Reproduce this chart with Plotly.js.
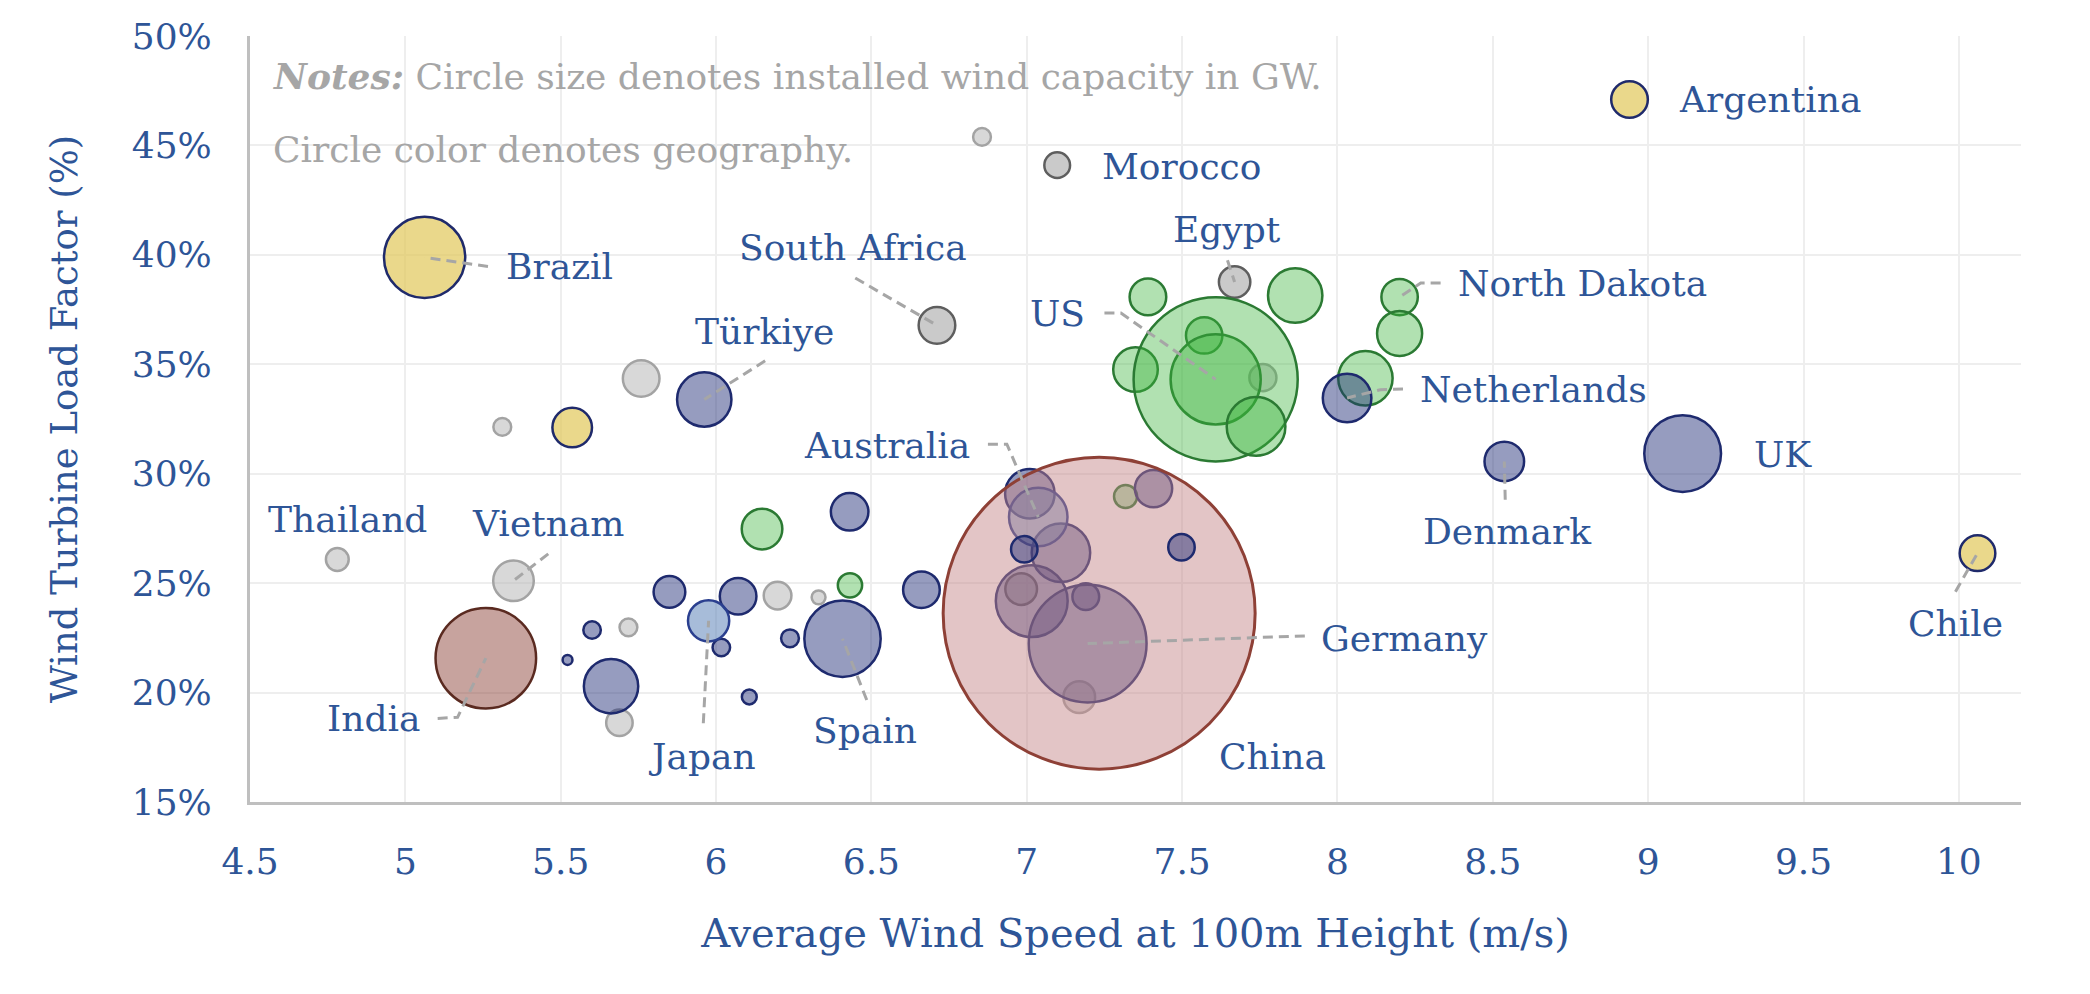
<!DOCTYPE html>
<html>
<head>
<meta charset="utf-8">
<script src="https://cdn.plot.ly/plotly-3.0.1.min.js"></script>
<style>
  html, body { margin: 0; padding: 0; background: #ffffff; }
  #chart { width: 2090px; height: 994px; }
</style>
</head>
<body>
<div id="chart"></div>
<script>
// ---------------- DATA (listed in drawing order) ----------------
const country = [
  'Thailand', 'Vietnam', '', '', '', '', '', '', '', '', '',
  'Morocco', 'South Africa', 'Egypt', '',
  '', '', 'North Dakota', '', '', '', '', '', '', '', '', 'US', '',
  'Brazil', 'Argentina', 'Chile', '',
  'Türkiye', '', '', '', '', '', '', '', '', 'Spain', '', '', 'Netherlands', 'Denmark', 'UK',
  '', '', '', '', '', 'Germany',
  'Japan', 'Australia',
  'India',
  'China',
  '', ''
];
const windSpeed = [
  4.781, 5.348, 5.312, 5.759, 6.856, 5.718, 5.689, 6.198, 6.330, 7.169, 7.760,
  7.098, 6.711, 7.669, 6.982,
  7.390, 7.864, 8.200, 8.200, 8.090, 7.350, 7.571, 7.608, 6.148, 6.431, 7.318, 7.608, 7.738,
  5.062, 8.940, 10.060, 5.537,
  5.962, 5.662, 5.601, 5.522, 5.850, 6.071, 6.017, 6.238, 6.107, 6.407, 6.430, 6.661, 8.031, 8.537, 9.111,
  7.010, 7.110, 7.408, 7.016, 7.190, 7.196,
  5.976, 7.037,
  5.259,
  7.233,
  6.992, 7.498
];
const loadFactor = [
  26.08, 25.11, 32.14, 34.35, 45.39, 22.98, 18.62, 24.43, 24.35, 19.79, 34.39,
  44.10, 36.78, 38.76, 24.73,
  38.08, 38.14, 38.07, 36.41, 34.36, 34.76, 36.32, 34.31, 27.47, 24.90, 28.96, 34.31, 32.16,
  39.88, 47.10, 26.37, 32.11,
  33.39, 20.29, 22.86, 21.49, 24.60, 24.40, 22.06, 22.48, 19.80, 22.46, 28.26, 24.70, 33.46, 30.56, 30.92,
  29.09, 26.39, 29.32, 24.18, 24.38, 22.24,
  23.28, 28.02,
  21.57,
  23.63,
  26.55, 26.64
];
const capacityGW = [
  2.35, 7.47, 1.44, 6.08, 1.44, 1.44, 3.17, 3.48, 0.87, 4.55, 3.31,
  3.0, 6.08, 4.47, 4.55,
  6.08, 13.4, 6.0, 9.2, 13.4, 9.0, 6.0, 36.8, 7.47, 2.67, 2.41, 122, 15.6,
  29.9, 6.08, 5.76, 7.1,
  13.4, 13.4, 1.39, 0.44, 4.55, 6.08, 1.39, 1.44, 1.0, 26.4, 6.4, 6.08, 10.7, 7.1, 26.7,
  11.1, 15.5, 6.3, 23.4, 3.24, 62.9,
  7.7, 15.5,
  45.8,
  441,
  3.17, 3.17
];
const region = [
  'Other', 'Other', 'Other', 'Other', 'Other', 'Other', 'Other', 'Other', 'Other', 'Other', 'Other',
  'Africa', 'Africa', 'Africa', 'Africa',
  'NorthAmerica', 'NorthAmerica', 'NorthAmerica', 'NorthAmerica', 'NorthAmerica', 'NorthAmerica',
  'NorthAmerica', 'NorthAmerica', 'NorthAmerica', 'NorthAmerica', 'NorthAmerica', 'NorthAmerica', 'NorthAmerica',
  'LatinAmerica', 'LatinAmerica', 'LatinAmerica', 'LatinAmerica',
  'Europe', 'Europe', 'Europe', 'Europe', 'Europe', 'Europe', 'Europe', 'Europe', 'Europe', 'Europe',
  'Europe', 'Europe', 'Europe', 'Europe', 'Europe',
  'Europe', 'Europe', 'Europe', 'Europe', 'Europe', 'Europe',
  'AsiaPacific', 'AsiaPacific',
  'India',
  'China',
  'Europe', 'Europe'
];

const xTickValues = [4.5, 5, 5.5, 6, 6.5, 7, 7.5, 8, 8.5, 9, 9.5, 10];
const xTickLabels = ['4.5', '5', '5.5', '6', '6.5', '7', '7.5', '8', '8.5', '9', '9.5', '10'];
const yTickValues = [15, 20, 25, 30, 35, 40, 45, 50];
const yTickLabels = ['15%', '20%', '25%', '30%', '35%', '40%', '45%', '50%'];

// ---------------- STYLES ----------------
const TEXT_BLUE = '#2E5597';
const FONT = 'DejaVu Serif, Georgia, serif';
const regionStyle = {
  Other:        { fill: 'rgba(178,178,178,0.5)', line: '#A3A3A3' },
  Africa:       { fill: 'rgba(150,150,150,0.5)', line: '#5E5E5E' },
  NorthAmerica: { fill: 'rgba(60,180,60,0.4)',   line: '#2B7A33' },
  LatinAmerica: { fill: 'rgba(225,200,90,0.7)',  line: '#1F2A6B' },
  Europe:       { fill: 'rgba(31,45,120,0.47)',  line: '#1E2A6E' },
  AsiaPacific:  { fill: 'rgba(79,121,179,0.5)',  line: '#2A3F8F' },
  India:        { fill: 'rgba(130,50,40,0.45)',  line: '#5A2A20' },
  China:        { fill: 'rgba(197,134,136,0.48)',line: '#8E4036' }
};
const MAX_BUBBLE_PX = 312;

const bubbles = {
  type: 'scatter',
  mode: 'markers',
  x: windSpeed,
  y: loadFactor,
  text: country,
  hoverinfo: 'text+x+y',
  marker: {
    size: capacityGW,
    sizemode: 'area',
    sizeref: 2 * Math.max(...capacityGW) / (MAX_BUBBLE_PX * MAX_BUBBLE_PX),
    opacity: 1,
    color: region.map(r => regionStyle[r].fill),
    line: {
      color: region.map(r => regionStyle[r].line),
      width: region.map(r => r === 'China' ? 3 : 2.5)
    }
  },
  cliponaxis: false,
  showlegend: false
};

// ---------------- LABELS & LEADER LINES ----------------
const labelLayout = [
  { name: 'Argentina',   x: 9.092, y: 47.10, anchor: 'left' },
  { name: 'Morocco',     x: 7.235, y: 44.03, anchor: 'left' },
  { name: 'Brazil',      x: 5.318, y: 39.46, anchor: 'left',   leader: [[5.266, 39.47]] },
  { name: 'South Africa',x: 6.442, y: 40.33, anchor: 'center', leader: [[6.448, 38.94]] },
  { name: 'Türkiye',     x: 6.156, y: 36.50, anchor: 'center', leader: [[6.158, 35.16]] },
  { name: 'Egypt',       x: 7.644, y: 41.15, anchor: 'center', leader: [[7.646, 39.75]] },
  { name: 'US',          x: 7.193, y: 37.34, anchor: 'right',  leader: [[7.250, 37.34], [7.303, 37.34]] },
  { name: 'North Dakota',x: 8.381, y: 38.71, anchor: 'left',   leader: [[8.332, 38.71], [8.268, 38.71]] },
  { name: 'Netherlands', x: 8.260, y: 33.87, anchor: 'left',   leader: [[8.211, 33.87], [8.138, 33.84]] },
  { name: 'UK',          x: 9.333, y: 30.86, anchor: 'left' },
  { name: 'Denmark',     x: 8.546, y: 27.36, anchor: 'center', leader: [[8.540, 28.81]] },
  { name: 'Chile',       x: 9.988, y: 23.17, anchor: 'center', leader: [[9.989, 24.61]] },
  { name: 'Germany',     x: 7.940, y: 22.48, anchor: 'left',   leader: [[7.895, 22.59]] },
  { name: 'China',       x: 7.791, y: 17.10, anchor: 'center' },
  { name: 'Australia',   x: 6.824, y: 31.29, anchor: 'right',  leader: [[6.875, 31.35], [6.936, 31.35]] },
  { name: 'Thailand',    x: 4.813, y: 27.92, anchor: 'center' },
  { name: 'Vietnam',     x: 5.458, y: 27.74, anchor: 'center', leader: [[5.460, 26.34]] },
  { name: 'India',       x: 5.053, y: 18.82, anchor: 'right',  leader: [[5.104, 18.82], [5.168, 18.87]] },
  { name: 'Japan',       x: 5.956, y: 17.10, anchor: 'center', leader: [[5.959, 18.60]] },
  { name: 'Spain',       x: 6.479, y: 18.27, anchor: 'center', leader: [[6.485, 19.66]] }
];

const annotations = labelLayout.map(l => ({
  xref: 'x', yref: 'y', x: l.x, y: l.y,
  text: l.name, showarrow: false,
  xanchor: l.anchor, yanchor: 'middle',
  font: { family: FONT, size: 36, color: TEXT_BLUE }
}));

annotations.push({
  xref: 'paper', yref: 'paper', x: 0.012, y: 0.9475,
  xanchor: 'left', yanchor: 'middle', showarrow: false,
  text: '<b><i>Notes:</i></b> Circle size denotes installed wind capacity in GW.',
  font: { family: FONT, size: 36, color: '#A6A6A6' }
});
annotations.push({
  xref: 'paper', yref: 'paper', x: 0.012, y: 0.852,
  xanchor: 'left', yanchor: 'middle', showarrow: false,
  text: 'Circle color denotes geography.',
  font: { family: FONT, size: 36, color: '#A6A6A6' }
});

const shapes = labelLayout.filter(l => l.leader).map(l => {
  const i = country.indexOf(l.name);
  const pts = l.leader.concat([[windSpeed[i], loadFactor[i]]]);
  const path = pts.map((p, k) => (k === 0 ? 'M ' : 'L ') + p[0] + ',' + p[1]).join(' ');
  return {
    type: 'path', xref: 'x', yref: 'y', path: path, layer: 'above',
    line: { color: '#A6A6A6', width: 3, dash: '10px,6px' }
  };
});

const layout = {
  width: 2090,
  height: 994,
  margin: { l: 250, r: 69, t: 36, b: 192 },
  paper_bgcolor: '#ffffff',
  plot_bgcolor: '#ffffff',
  font: { family: FONT, color: TEXT_BLUE },
  showlegend: false,
  xaxis: {
    range: [4.5, 10.2],
    tickmode: 'array',
    tickvals: xTickValues,
    ticktext: xTickLabels,
    showgrid: true, gridcolor: '#EEEEEE', gridwidth: 2,
    zeroline: false,
    showline: true, linecolor: '#BFBFBF', linewidth: 3,
    ticks: 'outside', ticklen: 26, tickcolor: 'rgba(0,0,0,0)',
    tickfont: { family: FONT, size: 36, color: TEXT_BLUE },
    title: { text: 'Average Wind Speed at 100m Height (m/s)', standoff: 38,
             font: { family: FONT, size: 40, color: TEXT_BLUE } },
    automargin: false
  },
  yaxis: {
    range: [15, 50],
    tickmode: 'array',
    tickvals: yTickValues,
    ticktext: yTickLabels,
    showgrid: true, gridcolor: '#EEEEEE', gridwidth: 2,
    zeroline: false,
    showline: true, linecolor: '#BFBFBF', linewidth: 3,
    ticks: 'outside', ticklen: 28, tickcolor: 'rgba(0,0,0,0)',
    tickfont: { family: FONT, size: 36, color: TEXT_BLUE },
    title: { text: 'Wind Turbine Load Factor (%)', standoff: 43,
             font: { family: FONT, size: 37, color: TEXT_BLUE } },
    automargin: false
  },
  annotations: annotations,
  shapes: shapes
};

Plotly.newPlot('chart', [bubbles], layout, { displayModeBar: false, staticPlot: true });
</script>
</body>
</html>
